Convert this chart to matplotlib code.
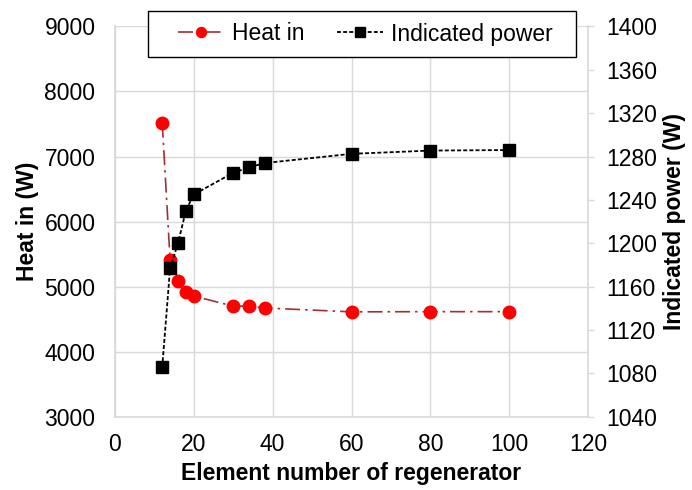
import matplotlib
matplotlib.use('Agg')
import matplotlib.pyplot as plt
from matplotlib.patches import Rectangle

plt.rcParams['font.family'] = ['Liberation Sans', 'DejaVu Sans']

# element number of regenerator
elements = [12, 14, 16, 18, 20, 30, 34, 38, 60, 80, 100]
# heat in (W)
heat_in = [7520, 5410, 5090, 4920, 4855, 4700, 4700, 4672, 4612, 4615, 4615]
# indicated power (W)
ind_power = [1085.5, 1177, 1200, 1230, 1245, 1265, 1270, 1274, 1282.5, 1285.5, 1286]

x_ticks = [0, 20, 40, 60, 80, 100, 120]
left_ticks = [3000, 4000, 5000, 6000, 7000, 8000, 9000]
right_ticks = [1040, 1080, 1120, 1160, 1200, 1240, 1280, 1320, 1360, 1400]

grid_c = '#d9d9d9'
fs = 16.5

fig = plt.figure(figsize=(6.92, 4.9), dpi=100)
ax = fig.add_axes([0.166, 0.1496, 0.684, 0.7964])
ax2 = ax.twinx()

l1, = ax.plot(elements, heat_in, color='#a33030', linestyle=(0, (9, 3, 1.5, 3)),
              linewidth=1.2, marker='o', markersize=9,
              markerfacecolor='red', markeredgecolor='red', label='Heat in')
l2, = ax2.plot(elements, ind_power, color='black', linestyle=(0, (2.2, 1.2)),
               linewidth=1.3, marker='s', markersize=9,
               markerfacecolor='black', markeredgecolor='black', label='Indicated power')

ax.set_xlim(0, 120)
ax.set_ylim(3000, 9000)
ax2.set_ylim(1040, 1400)
ax.set_xticks(x_ticks)
ax.set_yticks(left_ticks)
ax2.set_yticks(right_ticks)

ax.grid(True, color=grid_c, linewidth=1)
ax.set_axisbelow(True)

for a in (ax, ax2):
    for s in a.spines.values():
        s.set_visible(False)
for side in ('left', 'bottom'):
    ax.spines[side].set_visible(True)
    ax.spines[side].set_color(grid_c)
    ax.spines[side].set_linewidth(1.2)
ax2.spines['right'].set_visible(True)
ax2.spines['right'].set_color(grid_c)
ax2.spines['right'].set_linewidth(1.2)

ax.tick_params(axis='y', length=0, pad=14, labelsize=fs, colors='black')
ax.tick_params(axis='x', length=0, pad=12, labelsize=fs, colors='black')
ax2.tick_params(axis='y', length=4, width=1, color=grid_c, pad=9,
                labelsize=fs, labelcolor='black')

ax.set_xlabel('Element number of regenerator', fontsize=fs, fontweight='bold', labelpad=4)
ax.set_ylabel('Heat in (W)', fontsize=fs, fontweight='bold', labelpad=4)
ax2.set_ylabel('Indicated power (W)', fontsize=fs, fontweight='bold', labelpad=4)

# legend frame drawn separately (wider side padding than top/bottom)
frame = Rectangle((148 / 692, 1 - 57 / 490), 428 / 692, 46 / 490,
                  transform=fig.transFigure, facecolor='white',
                  edgecolor='black', linewidth=1, zorder=4)
fig.patches.append(frame)
leg = fig.legend([l1, l2], ['Heat in', 'Indicated power'], ncol=2,
                 loc='center left', bbox_to_anchor=(167 / 692, 1 - 34 / 490),
                 fontsize=fs, frameon=False, handlelength=2.0,
                 columnspacing=1.4, borderpad=0, handletextpad=0.35,
                 markerscale=0.8)
leg.set_zorder(5)

fig.savefig('out.png', dpi=100)
